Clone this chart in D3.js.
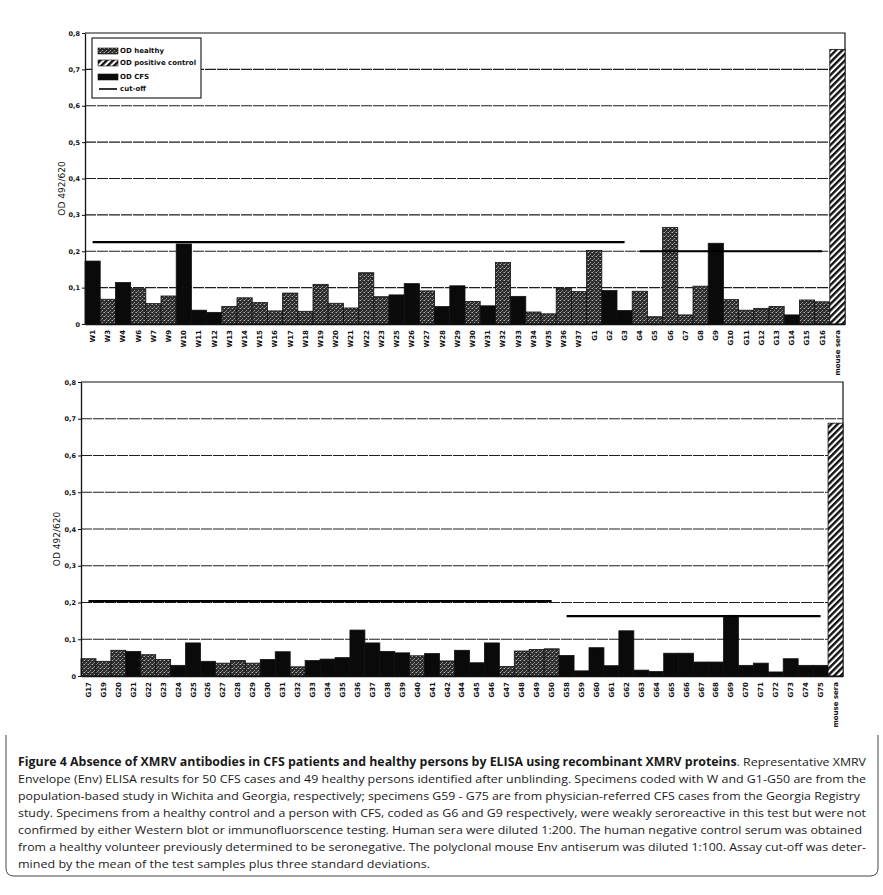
<!DOCTYPE html>
<html>
<head>
<meta charset="utf-8">
<script src="https://cdn.jsdelivr.net/npm/d3@7"></script>
<style>
  body { margin: 0; background: #fff; }
  svg { display: block; }
</style>
</head>
<body>
<div id="chart"></div>
<script>
// data
const topCategories = ["W1","W3","W4","W6","W7","W9","W10","W11","W12","W13","W14","W15","W16","W17","W18","W19","W20","W21","W22","W23","W25","W26","W27","W28","W29","W30","W31","W32","W33","W34","W35","W36","W37","G1","G2","G3","G4","G5","G6","G7","G8","G9","G10","G11","G12","G13","G14","G15","G16","mouse sera"];
const topValues = [0.173,0.068,0.114,0.097,0.056,0.077,0.22,0.038,0.032,0.048,0.072,0.059,0.036,0.085,0.035,0.109,0.057,0.044,0.141,0.075,0.080,0.111,0.091,0.048,0.105,0.062,0.050,0.169,0.076,0.033,0.028,0.098,0.089,0.202,0.092,0.037,0.09,0.02,0.265,0.025,0.104,0.222,0.067,0.038,0.043,0.048,0.025,0.066,0.061,0.755];
// H = OD healthy, C = OD CFS, P = OD positive control
const topSeries = "C H C H H H C C C H H H H H H H H H H H C C H C C H C H C H H H H H C C H H H H H C H H H H C H H P".split(" ");
const topCutoff = [
  { from: "W1", to: "G3", value: 0.225 },
  { from: "G4", to: "G16", value: 0.2 }
];

const bottomCategories = ["G17","G19","G20","G21","G22","G23","G24","G25","G26","G27","G28","G29","G30","G31","G32","G33","G34","G35","G36","G37","G38","G39","G40","G41","G42","G44","G45","G46","G47","G48","G49","G50","G58","G59","G60","G61","G62","G63","G64","G65","G66","G67","G68","G69","G70","G71","G72","G73","G74","G75","mouse sera"];
const bottomValues = [0.047,0.040,0.070,0.067,0.058,0.045,0.029,0.090,0.040,0.035,0.042,0.035,0.045,0.066,0.025,0.042,0.046,0.050,0.125,0.090,0.067,0.063,0.055,0.061,0.041,0.070,0.036,0.090,0.026,0.068,0.072,0.074,0.056,0.014,0.077,0.028,0.123,0.016,0.012,0.062,0.062,0.038,0.038,0.165,0.029,0.035,0.011,0.047,0.029,0.029,0.688];
const bottomSeries = "H H H C H H C C C H H H C C H C C C C C C C H C H C C C H H H H C C C C C C C C C C C C C C C C C C P".split(" ");
const bottomCutoff = [
  { from: "G17", to: "G50", value: 0.204 },
  { from: "G58", to: "G75", value: 0.163 }
];

const yTicks = [0, 0.1, 0.2, 0.3, 0.4, 0.5, 0.6, 0.7, 0.8];
const legendItems = [
  { label: "OD healthy", key: "H" },
  { label: "OD positive control", key: "P" },
  { label: "OD CFS", key: "C" },
  { label: "cut-off", key: "line" }
];

const captionLines = [
  [{ t: "Figure 4 Absence of XMRV antibodies in CFS patients and healthy persons by ELISA using recombinant XMRV proteins", b: true }, { t: ". Representative XMRV" }],
  [{ t: "Envelope (Env) ELISA results for 50 CFS cases and 49 healthy persons identified after unblinding. Specimens coded with W and G1-G50 are from the" }],
  [{ t: "population-based study in Wichita and Georgia, respectively; specimens G59 - G75 are from physician-referred CFS cases from the Georgia Registry" }],
  [{ t: "study. Specimens from a healthy control and a person with CFS, coded as G6 and G9 respectively, were weakly seroreactive in this test but were not" }],
  [{ t: "confirmed by either Western blot or immunofluorscence testing. Human sera were diluted 1:200. The human negative control serum was obtained" }],
  [{ t: "from a healthy volunteer previously determined to be seronegative. The polyclonal mouse Env antiserum was diluted 1:100. Assay cut-off was deter-" }],
  [{ t: "mined by the mean of the test samples plus three standard deviations." }]
];
const captionWidths = [848, 848, 842, 848, 844, 848, 412];

const W = 883, H = 895;
const svg = d3.select("#chart").append("svg")
  .attr("width", W).attr("height", H)
  .style("background", "#fff");

// fill patterns
const defs = svg.append("defs");
const stip = defs.append("pattern")
  .attr("id", "stipple").attr("patternUnits", "userSpaceOnUse")
  .attr("width", 4).attr("height", 4);
stip.append("rect").attr("width", 4).attr("height", 4).attr("fill", "#2c2c2c");
[[0, 0, "#b4b4b4"], [2, 2, "#a0a0a0"], [3, 0, "#6a6a6a"], [1, 3, "#777"]].forEach(p => {
  stip.append("rect").attr("x", p[0]).attr("y", p[1]).attr("width", 1).attr("height", 1).attr("fill", p[2]);
});
const hatch = defs.append("pattern")
  .attr("id", "hatch").attr("patternUnits", "userSpaceOnUse")
  .attr("width", 4.5).attr("height", 4.5)
  .attr("patternTransform", "rotate(45)");
hatch.append("rect").attr("width", 4.5).attr("height", 4.5).attr("fill", "#fff");
hatch.append("rect").attr("width", 2.4).attr("height", 4.5).attr("fill", "#111");

const fills = { H: "url(#stipple)", C: "#0a0a0a", P: "url(#hatch)" };

function drawPanel(cfg) {
  const g = svg.append("g");

  const x = d3.scaleBand()
    .domain(cfg.categories)
    .range([cfg.left, cfg.right])
    .padding(0);
  const y = d3.scaleLinear()
    .domain([0, 0.8])
    .range([cfg.bottom, cfg.top]);

  // gridlines
  g.append("g").selectAll("line")
    .data(yTicks.filter(d => d > 0 && d < 0.8))
    .join("line")
    .attr("x1", cfg.left).attr("x2", cfg.right)
    .attr("y1", d => y(d)).attr("y2", d => y(d))
    .attr("stroke", "#1e1e1e").attr("stroke-width", 1.1)
    .attr("stroke-dasharray", "11,1");

  // plot frame (top and right)
  g.append("path")
    .attr("d", `M${cfg.left},${y(0.8)}H${cfg.right}V${y(0)}`)
    .attr("fill", "none").attr("stroke", "#111").attr("stroke-width", 1.2);

  // bars
  g.append("g").selectAll("rect")
    .data(cfg.values)
    .join("rect")
    .attr("x", (d, i) => x(cfg.categories[i]))
    .attr("y", d => y(d))
    .attr("width", x.bandwidth())
    .attr("height", d => y(0) - y(d))
    .attr("fill", (d, i) => fills[cfg.series[i]])
    .attr("stroke", "#111").attr("stroke-width", 0.8);

  // cut-off lines
  g.append("g").selectAll("line")
    .data(cfg.cutoff)
    .join("line")
    .attr("x1", d => x(d.from) + x.bandwidth() / 2)
    .attr("x2", d => x(d.to) + x.bandwidth() / 2)
    .attr("y1", d => y(d.value)).attr("y2", d => y(d.value))
    .attr("stroke", "#000").attr("stroke-width", 2.2);

  // y axis
  const yAxis = g.append("g")
    .attr("transform", `translate(${cfg.left},0)`)
    .call(d3.axisLeft(y).tickValues(yTicks).tickSize(3).tickSizeOuter(0)
      .tickFormat(d => d === 0 ? "0" : d3.format(".1f")(d).replace(".", ",")));
  yAxis.select(".domain").attr("stroke", "#111").attr("stroke-width", 1.3);
  yAxis.selectAll(".tick line").attr("stroke", "#111");
  yAxis.selectAll("text")
    .attr("x", -5)
    .style("font-family", "DejaVu Sans").style("font-size", "6.5px")
    .style("font-weight", "bold").attr("fill", "#111");

  // x axis
  const xAxis = g.append("g")
    .attr("transform", `translate(0,${cfg.bottom})`)
    .call(d3.axisBottom(x).tickSize(0).tickSizeOuter(0));
  xAxis.select(".domain").attr("stroke", "#111").attr("stroke-width", 1.3);
  xAxis.selectAll("text")
    .attr("transform", "rotate(-90)")
    .attr("x", -6).attr("y", 0).attr("dy", "0.35em")
    .style("text-anchor", "end")
    .style("font-family", "DejaVu Sans").style("font-size", "7px")
    .style("font-weight", "bold").attr("fill", "#111");

  // y axis title
  g.append("text")
    .attr("transform", `translate(${cfg.titleX},${(cfg.top + cfg.bottom) / 2 + 10}) rotate(-90)`)
    .attr("text-anchor", "middle")
    .attr("dy", "0.35em")
    .style("font-family", "DejaVu Sans").style("font-size", "9px")
    .attr("fill", "#111")
    .text("OD 492/620");

  return g;
}

const topPanel = drawPanel({
  categories: topCategories, values: topValues, series: topSeries, cutoff: topCutoff,
  left: 85, right: 845, top: 33, bottom: 324, titleX: 62
});
drawPanel({
  categories: bottomCategories, values: bottomValues, series: bottomSeries, cutoff: bottomCutoff,
  left: 81, right: 843, top: 382, bottom: 676, titleX: 57
});

// legend (top panel only)
const legend = topPanel.append("g");
legend.append("rect")
  .attr("x", 92).attr("y", 38).attr("width", 109).attr("height", 60)
  .attr("fill", "#fff").attr("stroke", "#111").attr("stroke-width", 1.1);
const legendY = [51, 63, 77, 89];
legendItems.forEach((d, i) => {
  const ly = legendY[i];
  if (d.key === "line") {
    legend.append("line")
      .attr("x1", 99).attr("x2", 117).attr("y1", ly).attr("y2", ly)
      .attr("stroke", "#000").attr("stroke-width", 1.6);
  } else {
    legend.append("rect")
      .attr("x", 98).attr("y", ly - 3).attr("width", 20).attr("height", 6)
      .attr("fill", fills[d.key]).attr("stroke", "#111").attr("stroke-width", 0.6);
  }
  legend.append("text")
    .attr("x", 120).attr("y", ly).attr("dy", "0.35em")
    .style("font-family", "DejaVu Sans").style("font-size", "7px")
    .style("font-weight", "bold").attr("fill", "#111")
    .text(d.label);
});

// caption
const caption = svg.append("g");
captionLines.forEach((line, i) => {
  const t = caption.append("text")
    .attr("x", 18).attr("y", 766 + i * 17)
    .attr("textLength", captionWidths[i])
    .attr("lengthAdjust", "spacingAndGlyphs")
    .style("font-family", "Open Sans").style("font-size", "11.5px")
    .attr("fill", "#1a1a1a");
  line.forEach(part => {
    t.append("tspan")
      .style("font-weight", part.b ? "bold" : "normal")
      .text(part.t);
  });
});

// page frame around the figure (lower part visible in the scan)
svg.append("path")
  .attr("d", "M6,735V868Q6,876 14,876H870Q878,876 878,868V735")
  .attr("fill", "none").attr("stroke", "#444").attr("stroke-width", 1);
</script>
</body>
</html>
